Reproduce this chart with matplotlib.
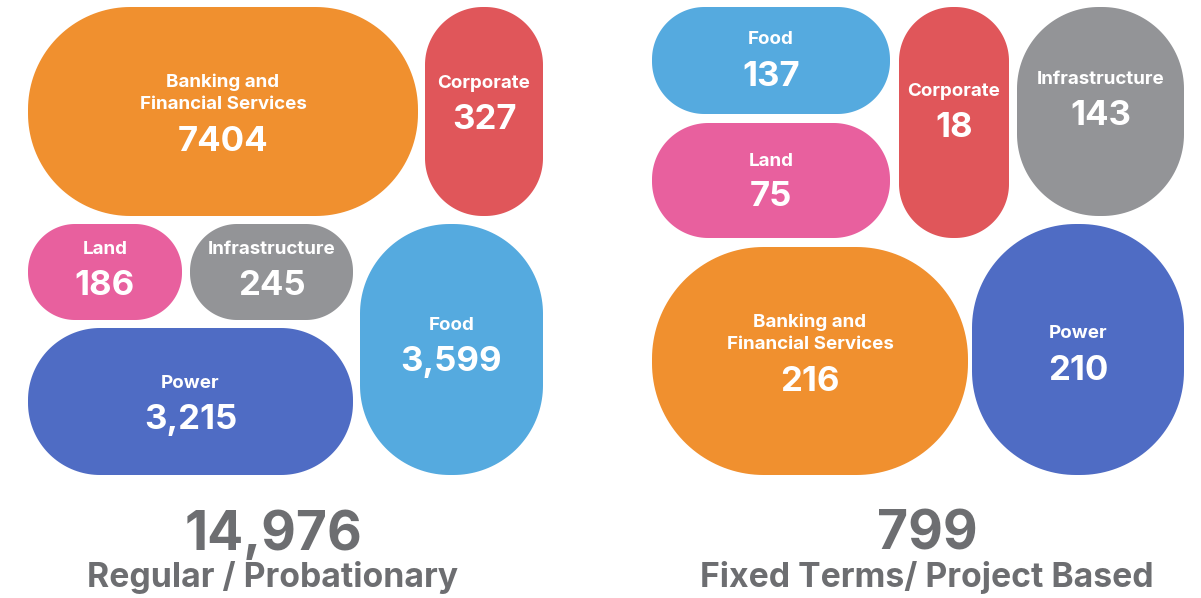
import numpy as np
import matplotlib.pyplot as plt
from matplotlib.patches import Polygon

# Regular / Probationary headcount by business unit
reg_labels = ["Banking and\nFinancial Services", "Corporate", "Land", "Infrastructure", "Food", "Power"]
reg_values = [7404, 327, 186, 245, 3599, 3215]
reg_title = "Regular / Probationary"

# Fixed Terms / Project Based headcount by business unit
fix_labels = ["Food", "Land", "Corporate", "Infrastructure", "Banking and\nFinancial Services", "Power"]
fix_values = [137, 75, 18, 143, 216, 210]
fix_title = "Fixed Terms/ Project Based"

colors = {
    "Banking": "#F0902F",
    "Corporate": "#E0565A",
    "Land": "#E8609E",
    "Infrastructure": "#939497",
    "Food": "#55AADF",
    "Power": "#4F6CC4",
}

# box layout in pixels (x0, y0, x1, y1), y measured from the top
reg_boxes = [(28, 7, 418, 216), (425, 7, 543, 216), (28, 224, 182, 320),
             (190, 224, 353, 320), (360, 224, 543, 475), (28, 328, 353, 475)]
# text anchor (label y, value y) per box
reg_text_y = [(93, 142), (83, 120), (249, 286), (249, 286), (325, 362), (383, 420)]

fix_boxes = [(652, 7, 890, 114), (652, 123, 890, 238), (899, 7, 1009, 238),
             (1017, 7, 1184, 216), (652, 247, 968, 475), (972, 224, 1184, 475)]
fix_text_y = [(40, 77), (161, 197), (91, 128), (79, 116), (333, 382), (333, 371)]

FONT = ["Inter", "DejaVu Sans"]
GREY = "#6D6E71"

fig = plt.figure(figsize=(12.01, 5.98), dpi=100)
ax = fig.add_axes([0, 0, 1, 1])
ax.set_xlim(0, 1201)
ax.set_ylim(598, 0)
ax.axis("off")


def rounded_box(x0, y0, x1, y1, r):
    # outline of a box with circular corners of radius r
    pts = []
    corners = [(x1 - r, y0 + r, -90, 0), (x1 - r, y1 - r, 0, 90),
               (x0 + r, y1 - r, 90, 180), (x0 + r, y0 + r, 180, 270)]
    for cx, cy, a0, a1 in corners:
        t = np.radians(np.linspace(a0, a1, 40))
        pts.append(np.column_stack([cx + r * np.cos(t), cy + r * np.sin(t)]))
    return np.vstack(pts)


def fmt(v):
    return str(v) if v == 7404 else f"{v:,}"


def draw_panel(labels, values, boxes, text_y, total_x, title):
    for lab, val, (x0, y0, x1, y1), (ly, vy) in zip(labels, values, boxes, text_y):
        r = min(x1 - x0, y1 - y0) / 2 * 0.98
        key = lab.split()[0]
        ax.add_patch(Polygon(rounded_box(x0, y0, x1, y1, r), closed=True,
                             fc=colors[key], ec="none"))
        cx = (x0 + x1) / 2
        ax.text(cx, ly, lab, ha="center", va="center", color="white",
                fontsize=13.5, fontweight="bold", family=FONT, linespacing=1.4)
        ax.text(cx, vy, fmt(val), ha="center", va="center", color="white",
                fontsize=25, fontweight="bold", family=FONT)
    ax.text(total_x, 535, f"{sum(values):,}", ha="center", va="center", color=GREY,
            fontsize=38.5, fontweight="bold", family=FONT)
    ax.text(total_x, 578, title, ha="center", va="center", color=GREY,
            fontsize=24.3, fontweight="bold", family=FONT)


draw_panel(reg_labels, reg_values, reg_boxes, reg_text_y, 273, reg_title)
draw_panel(fix_labels, fix_values, fix_boxes, fix_text_y, 927, fix_title)

fig.savefig("out.png", dpi=100, facecolor="white")
